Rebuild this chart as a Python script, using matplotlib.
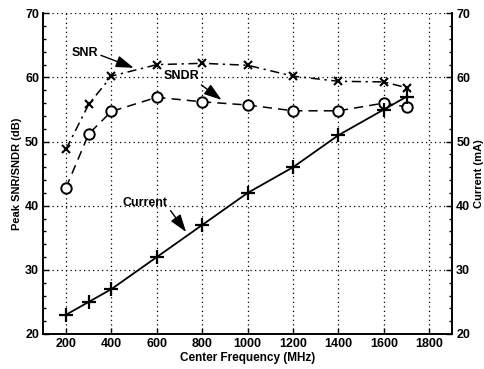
import matplotlib

matplotlib.use("Agg")

import matplotlib.pyplot as plt
from matplotlib.ticker import MultipleLocator

plt.rcParams["font.family"] = ["Liberation Sans", "DejaVu Sans"]
plt.rcParams["font.weight"] = "bold"

freq = [200, 300, 400, 600, 800, 1000, 1200, 1400, 1600, 1700]
snr = [48.8, 55.8, 60.2, 62.0, 62.2, 61.9, 60.2, 59.4, 59.3, 58.4]
sndr = [42.8, 51.2, 54.7, 56.9, 56.2, 55.7, 54.8, 54.8, 56.0, 55.4]
current = [23, 25, 27, 32, 37, 42, 46, 51, 55, 57]
x_ticks = [200, 400, 600, 800, 1000, 1200, 1400, 1600, 1800]
y_ticks = [20, 30, 40, 50, 60, 70]

fig = plt.figure(figsize=(4.84, 3.69), dpi=100)
ax = fig.add_axes([43.3 / 484, 1 - 334 / 369, (452 - 43.3) / 484, (334 - 13.3) / 369])
ax2 = ax.twinx()

ax.plot(freq, snr, color="black", linestyle="-.", linewidth=1.1, marker="x",
        markersize=6, markeredgewidth=1.5, dashes=(6, 3, 1.5, 3))
ax.plot(freq, sndr, color="black", linestyle="--", linewidth=1.1, marker="o",
        markersize=7.5, markerfacecolor="white", markeredgewidth=1.4, dashes=(6, 4))
ax2.plot(freq, current, color="black", linestyle="-", linewidth=1.3, marker="+",
         markersize=10, markeredgewidth=1.6)

for a in (ax, ax2):
    a.set_xlim(100, 1900)
    a.set_ylim(20, 70)
    a.set_yticks(y_ticks)
    a.yaxis.set_minor_locator(MultipleLocator(2))
    a.tick_params(direction="in", length=4, width=1, labelsize=9, pad=3)
    a.tick_params(which="minor", direction="in", length=2, width=1)
    a.spines["top"].set_visible(False)
    for s in ("left", "right", "bottom"):
        a.spines[s].set_linewidth(1.2)

ax.set_xticks(x_ticks)
ax.grid(True, color="black", linestyle=(0, (1, 2.6)), linewidth=0.9)

ax.set_xlabel("Center Frequency (MHz)", fontsize=8.5, fontweight="bold", labelpad=1)
ax.set_ylabel("Peak SNR/SNDR (dB)", fontsize=8, fontweight="bold", labelpad=2)
ax2.set_ylabel("Current (mA)", fontsize=8, fontweight="bold", labelpad=3)

arrow = dict(arrowstyle="-|>,head_length=0.9,head_width=0.3", color="black",
             linewidth=1.0, mutation_scale=12, shrinkA=0, shrinkB=0)
ax.annotate("SNR", xy=(498, 61.5), xytext=(283, 63.8), fontsize=9,
            fontweight="bold", ha="center", va="center",
            arrowprops=dict(arrow, relpos=(1.0, 0.4)))
ax.annotate("SNDR", xy=(885, 56.5), xytext=(709, 60.2), fontsize=9,
            fontweight="bold", ha="center", va="center",
            arrowprops=dict(arrow, relpos=(0.95, 0.0)))
ax.annotate("Current", xy=(729, 35.9), xytext=(549, 40.4), fontsize=9,
            fontweight="bold", ha="center", va="center",
            arrowprops=dict(arrow, relpos=(1.0, 0.2)))

fig.savefig("out.png", dpi=100)
